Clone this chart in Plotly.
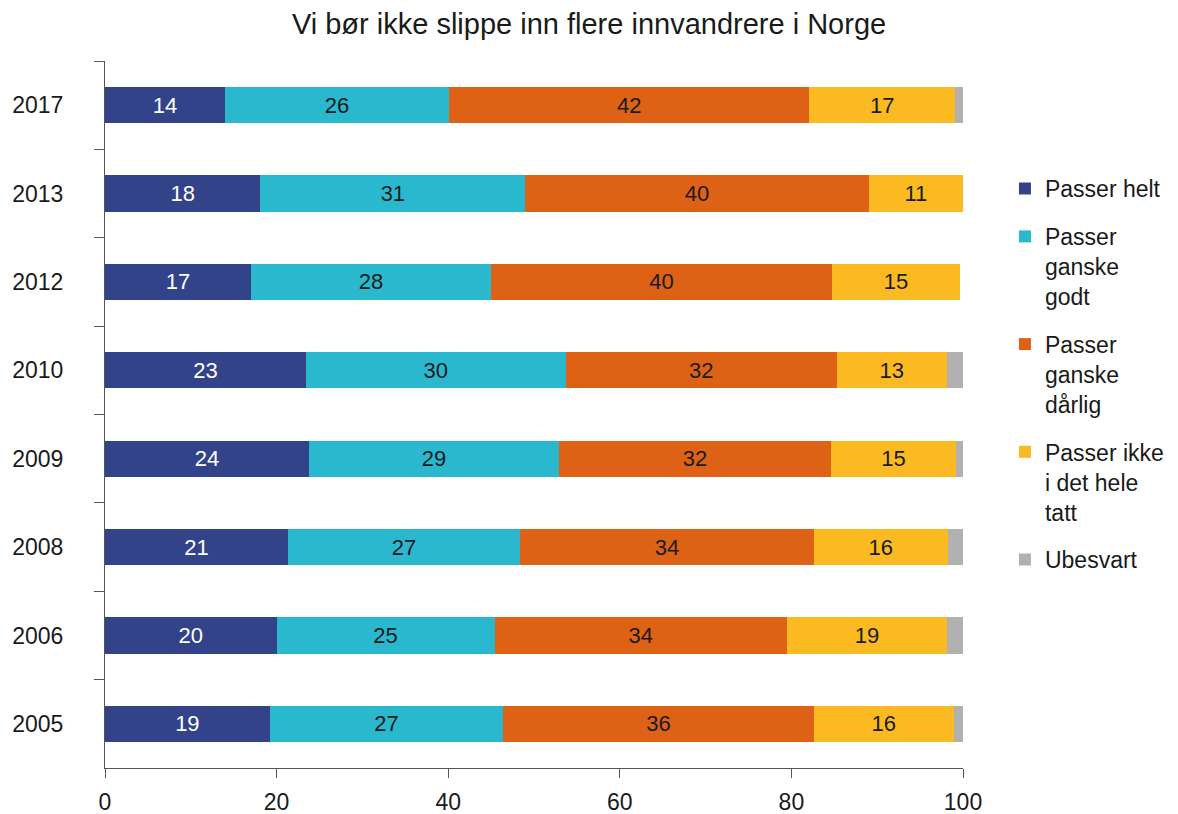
import plotly.graph_objects as go

years = ["2017", "2013", "2012", "2010", "2009", "2008", "2006", "2005"]
series_names = ["Passer helt", "Passer<br>ganske<br>godt", "Passer<br>ganske<br>dårlig",
                "Passer ikke<br>i det hele<br>tatt", "Ubesvart"]
passer_helt = [14.0, 18.1, 17.0, 23.4, 23.8, 21.3, 20.0, 19.2]
ganske_godt = [26.1, 30.9, 28.0, 30.3, 29.1, 27.1, 25.4, 27.2]
ganske_darlig = [42.0, 40.0, 39.7, 31.6, 31.7, 34.2, 34.1, 36.2]
ikke_i_det_hele = [17.0, 11.0, 15.0, 12.8, 14.6, 15.6, 18.6, 16.3]
ubesvart = [0.9, 0.0, 0.0, 1.9, 0.9, 1.9, 1.9, 1.7]
x_ticks = [0, 20, 40, 60, 80, 100]

colors = ["#33438A", "#29B8CE", "#DE6215", "#FBBA22", "#B1B1B1"]
text_colors = ["#FFFFFF", "#1A1A1A", "#1A1A1A", "#1A1A1A", "#1A1A1A"]
values = [passer_helt, ganske_godt, ganske_darlig, ikke_i_det_hele, ubesvart]

FONT = "Liberation Sans, Arial, sans-serif"

fig = go.Figure()
for i, (name, vals) in enumerate(zip(series_names, values)):
    fig.add_trace(go.Bar(
        y=years, x=vals, name=name, orientation="h",
        legendgroup="g%d" % i,
        marker=dict(color=colors[i], line=dict(width=0)),
        texttemplate="%{x:.0f}" if i < 4 else "",
        textposition="inside", insidetextanchor="middle",
        textfont=dict(size=22, color=text_colors[i], family=FONT),
        width=0.41,
    ))

# page body has an 8px margin, so the figure is sized/offset to compensate
fig.update_layout(
    barmode="stack",
    width=1170, height=806,
    margin=dict(l=97, r=215, t=53, b=46),
    paper_bgcolor="white", plot_bgcolor="white",
    font=dict(family=FONT, size=23, color="#1A1A1A"),
    title=dict(text="Vi bør ikke slippe inn flere innvandrere i Norge",
               x=0.4966, xanchor="center", xref="container", y=1 - 16 / 806, yanchor="middle",
               font=dict(size=29, color="#1A1A1A", family=FONT)),
    legend=dict(x=0.8521, xanchor="left", xref="container", y=0.85, yanchor="top",
                font=dict(size=23, color="#1A1A1A", family=FONT),
                traceorder="grouped", valign="top", tracegroupgap=15,
                bgcolor="rgba(0,0,0,0)"),
    showlegend=True,
)
fig.update_xaxes(range=[0, 100], tickvals=x_ticks, showgrid=False, zeroline=False,
                 showline=True, linecolor="#555555", linewidth=1,
                 ticks="outside", ticklen=9, tickcolor="#555555",
                 ticklabelstandoff=4, automargin=False,
                 tickfont=dict(size=23, color="#1A1A1A"))
fig.update_yaxes(categoryorder="array", categoryarray=years, autorange="reversed",
                 showgrid=False, zeroline=False,
                 showline=True, linecolor="#555555", linewidth=1,
                 ticks="outside", ticklen=10, tickcolor="#555555", tickson="boundaries",
                 ticklabelstandoff=36, automargin=False,
                 tickfont=dict(size=23, color="#1A1A1A"))

fig.write_html("out.html")
